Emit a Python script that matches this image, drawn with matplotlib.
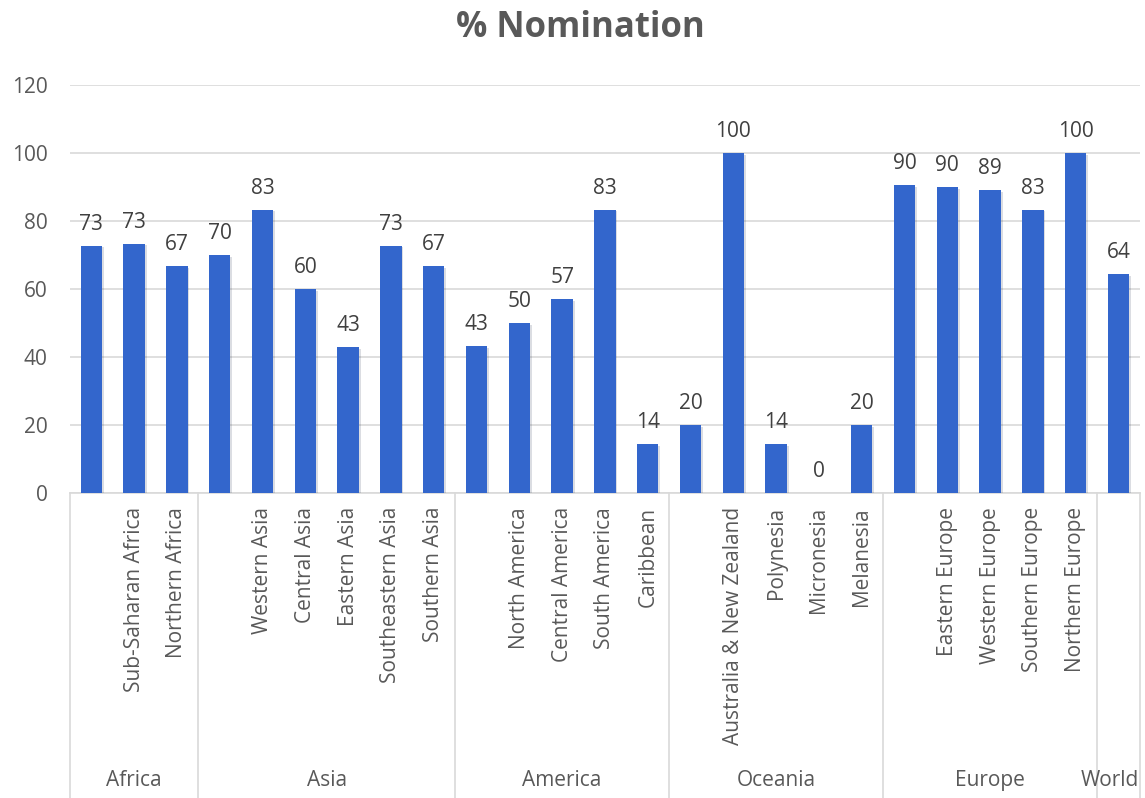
import numpy as np
import matplotlib.pyplot as plt
from matplotlib import patheffects as pe

plt.rcParams['font.family'] = ['Open Sans', 'DejaVu Sans']

# data
groups = ['Africa', 'Asia', 'America', 'Oceania', 'Europe', 'World']
group_sizes = [3, 6, 5, 5, 5, 1]
subregions = ['', 'Sub-Saharan Africa', 'Northern Africa',
              '', 'Western Asia', 'Central Asia', 'Eastern Asia', 'Southeastern Asia', 'Southern Asia',
              '', 'North America', 'Central America', 'South America', 'Caribbean',
              '', 'Australia & New Zealand', 'Polynesia', 'Micronesia', 'Melanesia',
              '', 'Eastern Europe', 'Western Europe', 'Southern Europe', 'Northern Europe',
              '']
values = [72.7, 73.3, 66.7,
          70.0, 83.3, 60.0, 42.9, 72.7, 66.7,
          43.2, 50.0, 57.1, 83.3, 14.3,
          20.0, 100.0, 14.3, 0.0, 20.0,
          90.5, 90.0, 89.0, 83.3, 100.0,
          64.3]

bar_color = '#3366cc'
grid_color = '#d9d9d9'
text_color = '#595959'

fig = plt.figure(figsize=(11.45, 7.98), dpi=100)
ax = fig.add_axes([0.0611, 0.3822, 0.9345, 0.5113])

x = np.arange(len(values))
bars = ax.bar(x, values, width=0.5, color=bar_color, zorder=3)
for b in bars:
    b.set_path_effects([pe.SimplePatchShadow(offset=(1.2, -1.2), alpha=0.15), pe.Normal()])

for xi, v in zip(x, values):
    ax.annotate('%d' % round(v), (xi, v), xytext=(0, 8), textcoords='offset points',
                ha='center', va='bottom', fontsize=15, color='#404040')

ax.set_ylim(0, 120)
ax.set_xlim(-0.5, len(values) - 0.5)
ax.set_yticks(np.arange(0, 121, 20))
ax.yaxis.grid(True, color=grid_color, linewidth=1.2, zorder=0)
ax.tick_params(axis='y', length=0, pad=16, labelsize=15, labelcolor=text_color)
for s in ['top', 'right', 'left']:
    ax.spines[s].set_visible(False)
ax.spines['bottom'].set_color(grid_color)
ax.spines['bottom'].set_linewidth(1.2)

ax.set_xticks(x)
ax.set_xticklabels(subregions, rotation=90, fontsize=15, color=text_color)
ax.tick_params(axis='x', length=0, pad=10)

# group separators and group names
tr = ax.get_xaxis_transform()
edges = np.concatenate([[0], np.cumsum(group_sizes)]) - 0.5
for e in edges:
    ax.plot([e, e], [0, -0.76], transform=tr, color=grid_color, linewidth=1.2, clip_on=False)
for g, a, b in zip(groups, edges[:-1], edges[1:]):
    xc = (a + b) / 2
    if g == 'World':
        xc -= 0.2  # keep it inside the canvas
    ax.text(xc, -0.705, g, transform=tr, ha='center', va='center',
            fontsize=15, color=text_color)

fig.text(0.507, 0.965, '% Nomination', ha='center', va='center', fontsize=25,
         fontweight='bold', color=text_color)

fig.savefig('out.png', dpi=100)
